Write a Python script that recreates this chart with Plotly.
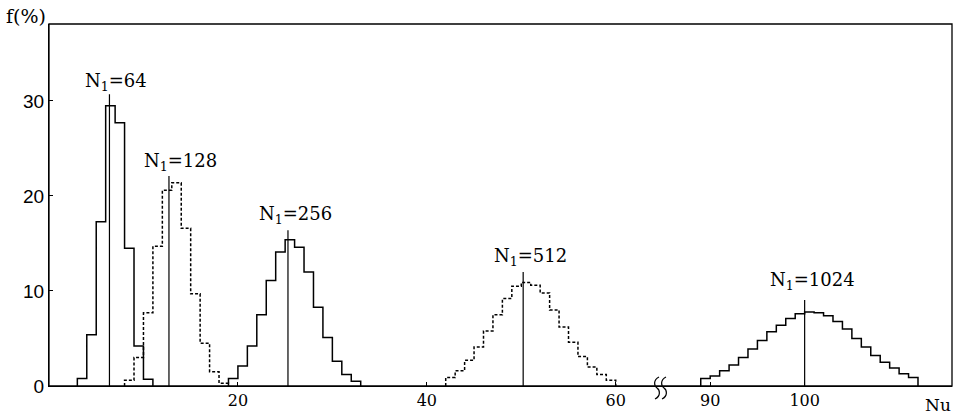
import plotly.graph_objects as go

# ---------------- data ----------------
n64_start = 3
n64_freq = [0.8, 5.4, 17.3, 29.5, 27.7, 14.5, 4.2, 0.7]

n128_start = 8
n128_freq = [0.6, 3.0, 7.7, 14.7, 20.6, 21.4, 16.6, 9.7, 4.5, 1.5, 0.3]

n256_start = 19
n256_freq = [0.8, 2.1, 4.2, 7.5, 11.1, 14.1, 15.4, 14.6, 12.0, 8.3, 5.1, 2.6, 1.2, 0.5]

n512_start = 42
n512_freq = [0.9, 1.6, 2.7, 4.1, 5.8, 7.5, 9.2, 10.5, 10.9, 10.6, 9.8, 8.0, 6.2, 4.6,
             3.1, 2.0, 1.2, 0.6]

n1024_start = 89
n1024_freq = [0.8, 1.05, 1.6, 2.2, 3.0, 3.9, 4.8, 5.7, 6.4, 7.1, 7.6, 7.8, 7.7, 7.4,
              6.8, 6.0, 5.0, 4.1, 3.2, 2.5, 1.9, 1.3, 0.9]

peak_nu = [6.4, 12.7, 25.3, 50.2, 100.0]
peak_top = [30.7, 22.1, 16.4, 12.0, 9.05]

series_labels = ["N<sub>1</sub>=64", "N<sub>1</sub>=128", "N<sub>1</sub>=256",
                 "N<sub>1</sub>=512", "N<sub>1</sub>=1024"]
label_x = [7.1, 13.9, 26.1, 51.0, 100.8]
label_y = [32.0, 23.6, 18.0, 13.6, 11.05]

x_ticks_left = [20, 40, 60]
x_ticks_right = [90, 100]
y_ticks = [0, 10, 20, 30]

# ---------------- figure ----------------
W, H = 958, 414
PL, PR, PT, PB = 49, 952, 24, 386          # plot area in page pixels
ML, MR, MT, MB = PL, W - PR, PT, H - PB
left_range = [0, 65]
right_range = [85, 115.6]
span_l = left_range[1] - left_range[0]
span_r = right_range[1] - right_range[0]
split = span_l / (span_l + span_r)

SERIF = "DejaVu Serif, Liberation Serif, serif"
NUMF = "Liberation Sans Narrow, Liberation Sans, Arial, sans-serif"


def step_xy(start, freq):
    edges = [start + i for i in range(len(freq) + 1)]
    xs = [edges[0]] + edges
    ys = [0] + list(freq) + [0]
    return xs, ys


fig = go.Figure()

series = [
    (n64_start, n64_freq, "solid", "x"),
    (n128_start, n128_freq, "3px,2px", "x"),
    (n256_start, n256_freq, "solid", "x"),
    (n512_start, n512_freq, "3px,2px", "x"),
    (n1024_start, n1024_freq, "solid", "x2"),
]
for start, freq, dash, xa in series:
    xs, ys = step_xy(start, freq)
    fig.add_trace(go.Scatter(x=xs, y=ys, mode="lines", line_shape="hv",
                             line=dict(color="black", width=1.5, dash=dash),
                             xaxis=xa, yaxis="y", showlegend=False,
                             hoverinfo="skip"))

for i, (p, t) in enumerate(zip(peak_nu, peak_top)):
    xa = "x2" if i == 4 else "x"
    fig.add_trace(go.Scatter(x=[p, p], y=[0, t], mode="lines",
                             line=dict(color="black", width=1.2),
                             xaxis=xa, yaxis="y", showlegend=False,
                             hoverinfo="skip"))

for i, (lab, lx, ly) in enumerate(zip(series_labels, label_x, label_y)):
    fig.add_annotation(text=lab, x=lx, y=ly, xref="x2" if i == 4 else "x",
                       yref="y", showarrow=False, xanchor="center",
                       yanchor="middle",
                       font=dict(family=SERIF, size=18, color="black"))

axis_common = dict(showgrid=False, zeroline=False, showline=True,
                   linecolor="black", linewidth=1.3, ticks="inside",
                   ticklen=4, tickcolor="black",
                   tickfont=dict(family=SERIF, size=16, color="black"))

fig.update_layout(
    width=W, height=H,
    margin=dict(l=ML, r=MR, t=MT, b=MB, autoexpand=False),
    paper_bgcolor="white", plot_bgcolor="white",
    xaxis=dict(domain=[0, split], range=left_range, tickvals=x_ticks_left,
               anchor="y", **axis_common),
    xaxis2=dict(domain=[split, 1], range=right_range, tickvals=x_ticks_right,
                anchor="y", **axis_common),
    yaxis=dict(range=[0, 38.1], tickvals=y_ticks, anchor="x",
               showgrid=False, zeroline=False, showline=True,
               linecolor="black", linewidth=1.3, ticks="inside", ticklen=4,
               tickcolor="black",
               tickfont=dict(family=NUMF, size=19, color="black")),
)

# frame
fig.add_shape(type="rect", xref="paper", yref="paper", x0=0, x1=1, y0=0, y1=1,
              line=dict(color="black", width=1.3))


# decorative elements placed in page pixels
def px(xp):
    return (xp - PL) / (PR - PL)


def py(yp):
    return (PB - yp) / (PB - PT)


for cx in (657.0, 664.0):
    path = (f"M {px(cx + 2)} {py(377)} "
            f"C {px(cx - 4)} {py(380)}, {px(cx - 3)} {py(386)}, {px(cx)} {py(388)} "
            f"C {px(cx + 3)} {py(390)}, {px(cx + 4)} {py(396)}, {px(cx - 2)} {py(399)}")
    fig.add_shape(type="path", path=path, xref="paper", yref="paper",
                  line=dict(color="black", width=1.2))

fig.add_annotation(text="f(%)", x=px(26), y=py(16), xref="paper", yref="paper",
                   xanchor="center", yanchor="middle", showarrow=False,
                   font=dict(family=SERIF, size=19, color="black"))
fig.add_annotation(text="Nu", x=px(938), y=py(405), xref="paper", yref="paper",
                   xanchor="center", yanchor="middle", showarrow=False,
                   font=dict(family=SERIF, size=17, color="black"))

fig.write_html("out.html",
               config={"displayModeBar": False},
               post_script="document.body.style.margin='0';"
                           "document.body.style.overflow='hidden';")
